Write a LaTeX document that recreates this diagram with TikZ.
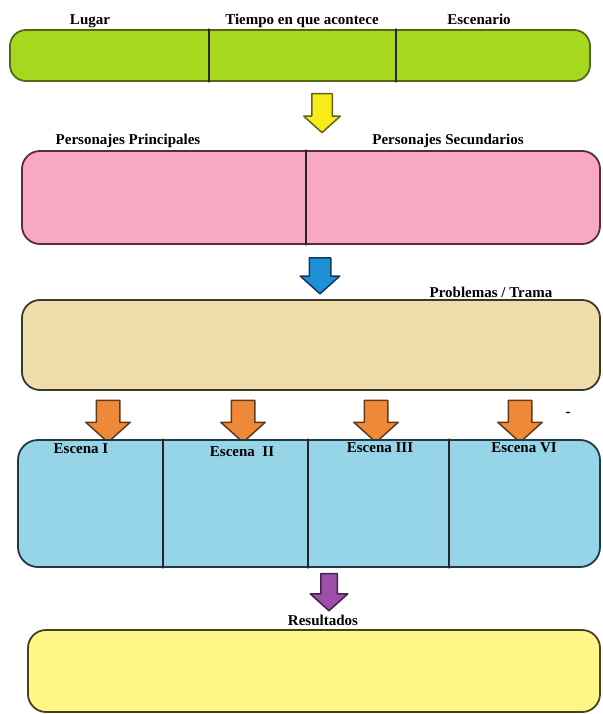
\documentclass[tikz,border=0pt]{standalone}
\usepackage{fontspec}
\setmainfont{Liberation Serif}
\usetikzlibrary{shapes.arrows}
\definecolor{limefill}{RGB}{166,217,30}
\definecolor{limeedge}{RGB}{84,104,28}
\definecolor{pinkfill}{RGB}{248,168,196}
\definecolor{pinkedge}{RGB}{88,44,58}
\definecolor{tanfill}{RGB}{238,222,172}
\definecolor{tanedge}{RGB}{60,56,42}
\definecolor{skyfill}{RGB}{150,212,232}
\definecolor{skyedge}{RGB}{34,56,68}
\definecolor{lemonfill}{RGB}{255,246,136}
\definecolor{lemonedge}{RGB}{70,66,30}
\definecolor{yelarr}{RGB}{246,236,24}
\definecolor{yeledge}{RGB}{100,98,30}
\definecolor{bluearr}{RGB}{30,144,214}
\definecolor{blueedge}{RGB}{20,56,90}
\definecolor{orngarr}{RGB}{240,136,58}
\definecolor{orngedge}{RGB}{96,58,26}
\definecolor{purparr}{RGB}{156,80,168}
\definecolor{purpedge}{RGB}{70,30,78}
\begin{document}
\begin{tikzpicture}[x=1pt,y=-1pt, line join=round, line cap=round,
	box/.style={draw, line width=1.8pt, rounded corners=14pt, inner sep=0pt},
	divider/.style={line width=1.4pt, black!85},
	lbl/.style={font=\bfseries\fontsize{15}{18}\selectfont, inner sep=0pt, anchor=base},
	blockarr/.style={single arrow, shape border rotate=270, line width=1.5pt, single arrow tip angle=96, minimum height=#1}]
	\useasboundingbox (0,0) rectangle (602,714);
	% setting
	\node[box, fill=limefill, draw=limeedge, minimum width=580pt, minimum height=51pt, rounded corners=16pt] (green) at (300,55.5) {};
	\foreach \dx in {200,387} \draw[divider] ([xshift=\dx pt]green.north west) -- ([xshift=\dx pt]green.south west);
	\node[lbl] (lugar) at (90,25) {Lugar};
	\node[lbl] (tiempo) at (302,25) {Tiempo en que acontece};
	\node[lbl] (escenario) at (479,25) {Escenario};
	\node[blockarr=39pt, fill=yelarr, draw=yeledge, inner sep=9.5pt, single arrow head extend=8pt] (arr1) at (322,108.5) {};
	% characters
	\node[box, fill=pinkfill, draw=pinkedge, minimum width=578pt, minimum height=93pt, rounded corners=18pt] (pink) at (311,197.5) {};
	\draw[divider] ([xshift=285pt]pink.north west) -- ([xshift=285pt]pink.south west);
	\node[lbl] (princ) at (128,145) {Personajes Principales};
	\node[lbl] (secun) at (448,145) {Personajes Secundarios};
	\node[blockarr=36pt, fill=bluearr, draw=blueedge, inner sep=10pt, single arrow head extend=9pt] (arr2) at (320,271) {};
	% plot
	\node[box, fill=tanfill, draw=tanedge, minimum width=578pt, minimum height=90pt, rounded corners=18pt] (tan) at (311,345) {};
	\node[lbl] (trama) at (491,297) {Problemas / Trama};
	\foreach \ax [count=\i] in {108,243,376,520}
		\node[blockarr=42pt, fill=orngarr, draw=orngedge, inner sep=11pt, single arrow head extend=10.5pt] (orng\i) at (\ax,416) {};
	\node[lbl] (dash) at (568,416) {-};
	% scenes
	\node[box, fill=skyfill, draw=skyedge, minimum width=582pt, minimum height=127pt, rounded corners=20pt] (sky) at (309,503.5) {};
	\foreach \dx in {146,291,432} \draw[divider] ([xshift=\dx pt]sky.north west) -- ([xshift=\dx pt]sky.south west);
	\node[lbl] (esc1) at (81,453) {Escena I};
	\node[lbl] (esc2) at (242,456) {Escena\ \ II};
	\node[lbl] (esc3) at (380,452) {Escena III};
	\node[lbl] (esc4) at (524,452) {Escena VI};
	\node[blockarr=37pt, fill=purparr, draw=purpedge, inner sep=7.5pt, single arrow head extend=10.5pt] (arr3) at (329,588.5) {};
	% results
	\node[lbl] (result) at (323,625) {Resultados};
	\node[box, fill=lemonfill, draw=lemonedge, minimum width=572pt, minimum height=82pt, rounded corners=18pt] (lemon) at (314,671) {};
\end{tikzpicture}
\end{document}
